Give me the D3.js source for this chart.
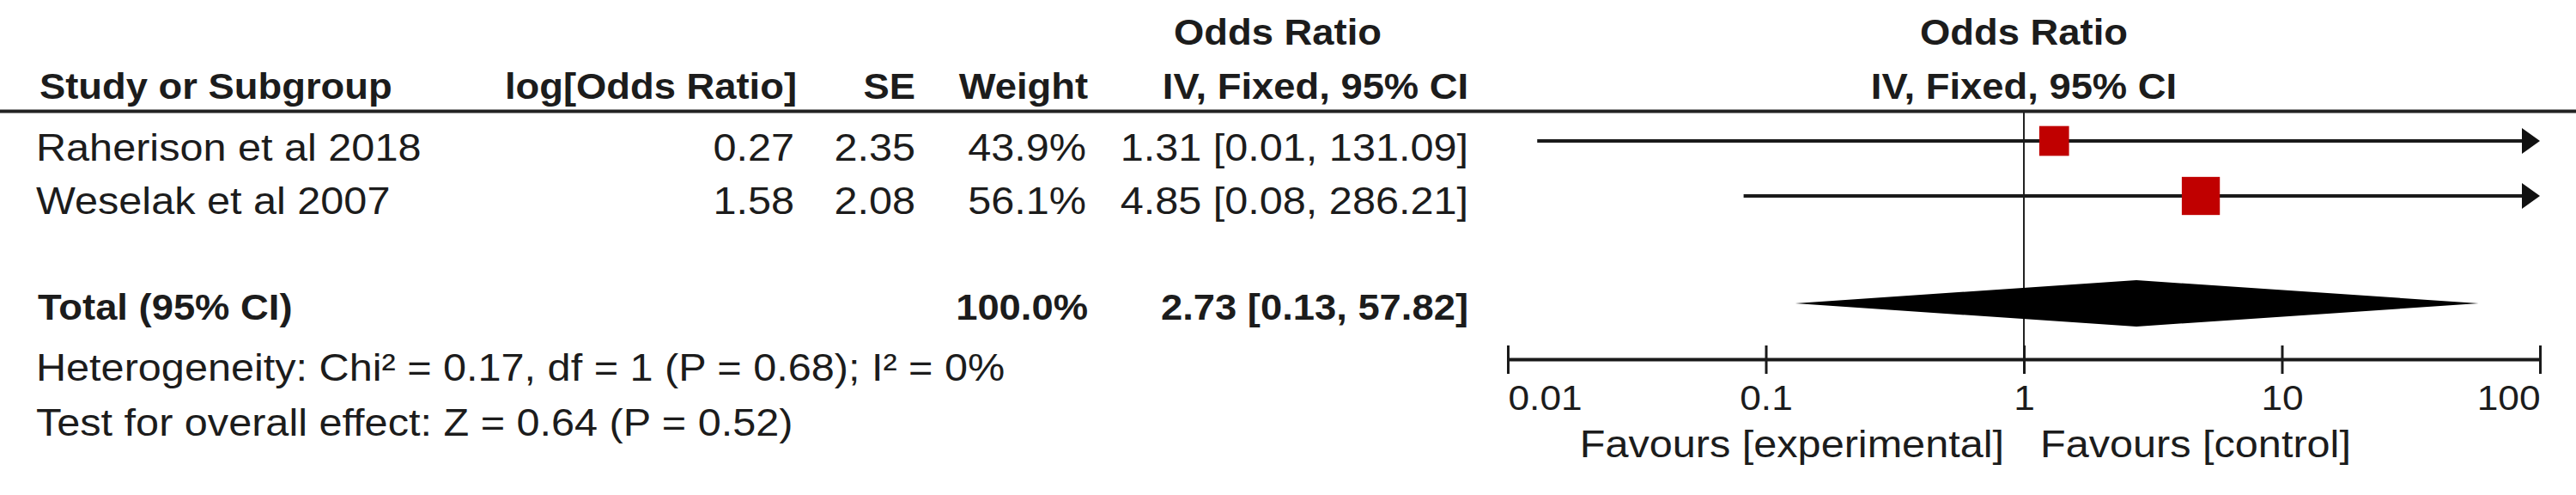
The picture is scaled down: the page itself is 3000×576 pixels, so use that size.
<!DOCTYPE html>
<html>
<head>
<meta charset="utf-8">
<script src="https://cdn.jsdelivr.net/npm/d3@7"></script>
<style>
  html, body { margin: 0; padding: 0; background: #fff; }
  svg text { font-family: "Liberation Sans", Arial, sans-serif; fill: #1c1c1c; }
</style>
</head>
<body>
<svg id="chart" width="3000" height="576"></svg>
<script>
// ---------- data ----------
const studies   = ["Raherison et al 2018", "Weselak et al 2007"];
const logOR     = [0.27, 1.58];
const seVals    = [2.35, 2.08];
const weights   = [43.9, 56.1];
const orVals    = [1.31, 4.85];
const ciLow     = [0.013, 0.082];      // plotted lower CI (label rounds to 0.01 / 0.08)
const ciHigh    = [131.09, 286.21];
const ciLabels  = ["1.31 [0.01, 131.09]", "4.85 [0.08, 286.21]"];
const totalOR   = 2.73;
const totalLow  = 0.13;
const totalHigh = 57.82;
const totalLabel = "2.73 [0.13, 57.82]";
const totalWeight = "100.0%";
const tickValues = [0.01, 0.1, 1, 10, 100];
const tickLabels = ["0.01", "0.1", "1", "10", "100"];
const heterogeneityText = "Heterogeneity: Chi\u00B2 = 0.17, df = 1 (P = 0.68); I\u00B2 = 0%";
const overallText = "Test for overall effect: Z = 0.64 (P = 0.52)";
const favLeft = "Favours [experimental]";
const favRight = "Favours [control]";

// ---------- layout ----------
const SX = 1.08;
const svg = d3.select("#chart");
const x = d3.scaleLog().domain([0.01, 100]).range([1756, 2958]);
const rowY = d3.scaleLinear().domain([0, 1]).range([164, 228]);   // CI line y per row
const rowBase = d3.scaleLinear().domain([0, 1]).range([187, 249]); // text baseline per row
const side = d3.scaleLinear().domain([0, 100]).range([0, 79]);

function txt(x0, y0, s, size, bold, anchor) {
  return svg.append("text")
    .attr("transform", `translate(${x0},${y0}) scale(${SX},1)`)
    .attr("text-anchor", anchor || "start")
    .style("font-size", size + "px")
    .style("font-weight", bold ? 700 : 400)
    .text(s);
}

// headers
const HB = 42, RG = 45;
txt(1488, 52, "Odds Ratio", HB, true, "middle");
txt(x(1), 52, "Odds Ratio", HB, true, "middle");
txt(46, 115, "Study or Subgroup", HB, true, "start");
txt(928, 115, "log[Odds Ratio]", HB, true, "end");
txt(1066, 115, "SE", HB, true, "end");
txt(1267, 115, "Weight", HB, true, "end");
txt(1532, 115, "IV, Fixed, 95% CI", HB, true, "middle");
txt(x(1), 115, "IV, Fixed, 95% CI", HB, true, "middle");

// header rule
svg.append("line").attr("x1", 0).attr("x2", 3000).attr("y1", 129.5).attr("y2", 129.5)
  .attr("stroke", "#222").attr("stroke-width", 4);

// null line
svg.append("line").attr("x1", x(1)).attr("x2", x(1)).attr("y1", 131).attr("y2", 418)
  .attr("stroke", "#222").attr("stroke-width", 2);

// study rows
studies.forEach((s, i) => {
  txt(42, rowBase(i), s, RG, false, "start");
  txt(925, rowBase(i), logOR[i].toFixed(2), RG, false, "end");
  txt(1066, rowBase(i), seVals[i].toFixed(2), RG, false, "end");
  txt(1265, rowBase(i), weights[i].toFixed(1) + "%", RG, false, "end");
  txt(1710, rowBase(i), ciLabels[i], RG, false, "end");

  const y = rowY(i);
  const [d0, d1] = x.domain();
  const xl = x(Math.max(ciLow[i], d0));
  const arrowTip = x(d1);
  const xr = ciHigh[i] > d1 ? arrowTip - 18 : x(ciHigh[i]);
  svg.append("line").attr("x1", xl).attr("x2", xr).attr("y1", y).attr("y2", y)
    .attr("stroke", "#1a1a1a").attr("stroke-width", 4);
  if (ciHigh[i] > d1) {
    svg.append("path")
      .attr("d", `M${arrowTip - 21},${y - 15} L${arrowTip},${y} L${arrowTip - 21},${y + 15} Z`)
      .attr("fill", "#111");
  }
  const w = side(weights[i]);
  svg.append("rect").attr("x", x(orVals[i]) - w / 2).attr("y", y - w / 2)
    .attr("width", w).attr("height", w).attr("fill", "#c00000");
});

// total row
txt(44, 372, "Total (95% CI)", HB, true, "start");
txt(1267, 372, totalWeight, HB, true, "end");
txt(1710, 372, totalLabel, HB, true, "end");
const dy = 353;
svg.append("path")
  .attr("d", `M${x(totalLow)},${dy} L${x(totalOR)},${dy - 27} L${x(totalHigh)},${dy} L${x(totalOR)},${dy + 27} Z`)
  .attr("fill", "#000");

txt(42, 443, heterogeneityText, RG, false, "start");
txt(42, 507, overallText, RG, false, "start");

// axis
const axisG = svg.append("g").attr("transform", "translate(0,418)")
  .call(d3.axisBottom(x).tickValues(tickValues).tickFormat((d, i) => tickLabels[i])
    .tickSizeOuter(0).tickSizeInner(17));
axisG.select(".domain").attr("stroke", "#1a1a1a").attr("stroke-width", 4);
axisG.selectAll(".tick line").attr("y1", -16).attr("y2", 17)
  .attr("stroke", "#1a1a1a").attr("stroke-width", 3);
axisG.selectAll(".tick text")
  .attr("y", 59).attr("dy", null)
  .attr("transform", `scale(${SX},1)`)
  .attr("text-anchor", (d, i) => i === 0 ? "start" : (i === tickValues.length - 1 ? "end" : "middle"))
  .style("font-size", "41px")
  .style("font-family", '"Liberation Sans", Arial, sans-serif')
  .attr("fill", "#1c1c1c");

txt(x(1) - 23, 532, favLeft, RG, false, "end");
txt(x(1) + 19, 532, favRight, RG, false, "start");
</script>
</body>
</html>
